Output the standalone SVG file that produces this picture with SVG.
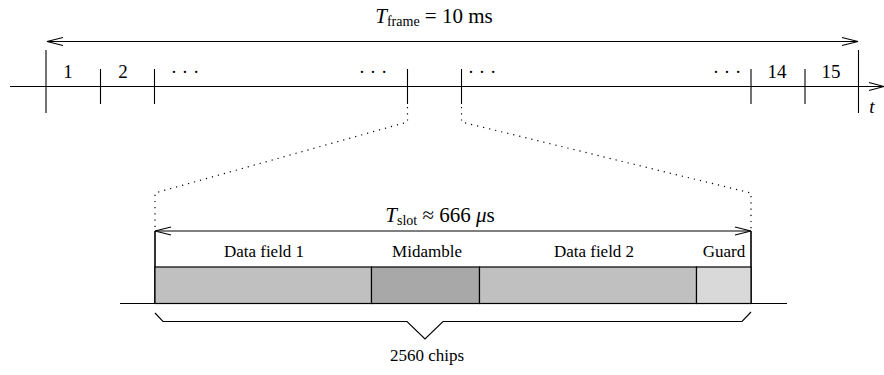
<svg xmlns="http://www.w3.org/2000/svg" width="884" height="375" viewBox="0 0 884 375">
<style>
.ln{stroke:#000;stroke-width:1.1;fill:none}
.dot{stroke:#000;stroke-width:1.2;fill:none;stroke-dasharray:1.2 5}
.t{font-family:"Liberation Serif","Times New Roman",serif;font-size:17px;fill:#000}
.m{font-family:"Liberation Serif","Times New Roman",serif;font-size:19px;fill:#000}
.h{font-family:"Liberation Serif","Times New Roman",serif;font-size:21px;fill:#000}
.it{font-style:italic}
.sub{font-size:14px}
.box{stroke:#000;stroke-width:1.2}
</style>
<rect width="884" height="375" fill="#fff"/>
<g id="connectors">
  <line class="ln" x1="47" y1="41.5" x2="858" y2="41.5"/>
  <polyline class="ln" points="63,37.5 47,41.5 63,45.5"/>
  <polyline class="ln" points="842,37.5 858,41.5 842,45.5"/>
  <line class="ln" x1="10" y1="86.5" x2="883" y2="86.5"/>
  <polyline class="ln" points="869,82.5 884,86.5 869,90.5"/>
  <line class="ln" x1="46" y1="50" x2="46" y2="113"/>
  <line class="ln" x1="100.5" y1="69" x2="100.5" y2="104"/>
  <line class="ln" x1="154.5" y1="69" x2="154.5" y2="104"/>
  <line class="ln" x1="407.5" y1="69" x2="407.5" y2="104"/>
  <line class="ln" x1="461.5" y1="69" x2="461.5" y2="104"/>
  <line class="ln" x1="751" y1="69" x2="751" y2="104"/>
  <line class="ln" x1="805" y1="69" x2="805" y2="104"/>
  <line class="ln" x1="858.5" y1="50" x2="858.5" y2="113"/>
  <polyline class="dot" points="407.5,107 407.5,122 155,193 155,229"/>
  <polyline class="dot" points="461.5,107 461.5,122 751,193 751,229"/>
  <line class="ln" x1="155" y1="231" x2="751" y2="231"/>
  <polyline class="ln" points="171,227 155,231 171,235"/>
  <polyline class="ln" points="735,227 751,231 735,235"/>
  <line x1="155" y1="231" x2="155" y2="303" stroke="#000" stroke-width="1.6"/>
  <line x1="751" y1="231" x2="751" y2="303" stroke="#000" stroke-width="1.6"/>
  <line class="ln" x1="120" y1="303.5" x2="787" y2="303.5"/>
  <polyline class="ln" points="155,313 163,321.5 407,321.5 425,339 443,321.5 742,321.5 751,312"/>
</g>
<g id="slot-fields">
  <rect id="data-field-1" class="box" x="155" y="267" width="216.5" height="36.5" fill="#c0c0c0"/>
  <rect id="midamble" class="box" x="371.5" y="267" width="108" height="36.5" fill="#a8a8a8"/>
  <rect id="data-field-2" class="box" x="479.5" y="267" width="217" height="36.5" fill="#c0c0c0"/>
  <rect id="guard" class="box" x="696.5" y="267" width="54.5" height="36.5" fill="#d9d9d9"/>
</g>
<g id="labels">
  <text class="h" x="434" y="23" text-anchor="middle"><tspan class="it">T</tspan><tspan class="sub" dy="3">frame</tspan><tspan dy="-3"> = 10 ms</tspan></text>
  <text class="m" x="68" y="78" text-anchor="middle">1</text>
  <text class="m" x="123" y="78" text-anchor="middle">2</text>
  <text class="m" x="185" y="78" text-anchor="middle">· · ·</text>
  <text class="m" x="373" y="78" text-anchor="middle">· · ·</text>
  <text class="m" x="482" y="78" text-anchor="middle">· · ·</text>
  <text class="m" x="727" y="78" text-anchor="middle">· · ·</text>
  <text class="m" x="777" y="78" text-anchor="middle">14</text>
  <text class="m" x="831" y="78" text-anchor="middle">15</text>
  <text class="m it" x="872" y="113" text-anchor="middle">t</text>
  <text class="h" x="440" y="222" text-anchor="middle"><tspan class="it">T</tspan><tspan class="sub" dy="3">slot</tspan><tspan dy="-3"> ≈ 666 </tspan><tspan class="it">μ</tspan><tspan>s</tspan></text>
  <text class="t" x="264" y="257" text-anchor="middle">Data field 1</text>
  <text class="t" x="427" y="257" text-anchor="middle">Midamble</text>
  <text class="t" x="594" y="257" text-anchor="middle">Data field 2</text>
  <text class="t" x="724" y="257" text-anchor="middle">Guard</text>
  <text class="t" x="427" y="361" text-anchor="middle">2560 chips</text>
</g>
</svg>
